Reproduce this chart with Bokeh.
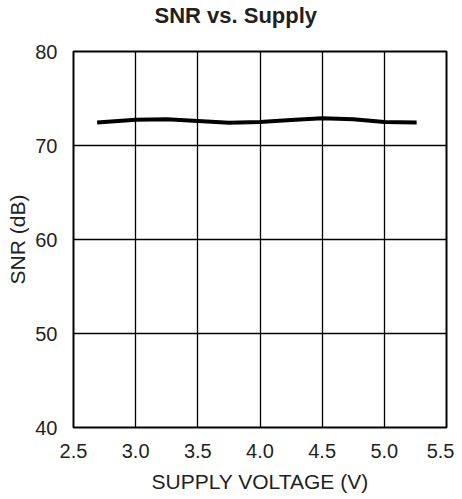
from bokeh.plotting import figure
from bokeh.embed import file_html
from bokeh.resources import INLINE
from bokeh.models import FixedTicker, Range1d, Title

supply_v = [2.69, 3.0, 3.25, 3.5, 3.75, 4.0, 4.25, 4.5, 4.75, 5.0, 5.26]
snr_db = [72.45, 72.75, 72.8, 72.6, 72.42, 72.5, 72.7, 72.9, 72.8, 72.5, 72.45]

x_ticks = [2.5, 3.0, 3.5, 4.0, 4.5, 5.0, 5.5]
y_ticks = [40, 50, 60, 70, 80]
title_text = "SNR vs. Supply"

FONT = "Liberation Sans"
TXT = "#231f20"

p = figure(width=454, height=495, output_backend="svg", toolbar_location=None,
           x_range=Range1d(2.5, 5.5), y_range=Range1d(40, 80),
           min_border_left=73, min_border_right=8, min_border_top=51, min_border_bottom=65)

# spacer between the title and the frame
p.add_layout(Title(text=" ", text_font_size="2px", standoff=20), "above")
p.add_layout(Title(text=title_text, align="left", offset=81, standoff=0,
                   text_font=FONT, text_font_size="22px", text_font_style="bold",
                   text_color=TXT), "above")

p.outline_line_color = "black"
p.outline_line_width = 2

for ax in (p.xaxis[0], p.yaxis[0]):
    ax.axis_line_color = None
    ax.major_tick_line_color = None
    ax.minor_tick_line_color = None
    ax.major_label_text_font = FONT
    ax.major_label_text_font_size = "20px"
    ax.major_label_text_color = TXT
    ax.axis_label_text_font = FONT
    ax.axis_label_text_font_size = "21px"
    ax.axis_label_text_font_style = "normal"
    ax.axis_label_text_color = TXT

p.xaxis.ticker = FixedTicker(ticks=x_ticks)
p.yaxis.ticker = FixedTicker(ticks=y_ticks)
p.xaxis.major_label_overrides = {t: f"{t:.1f}" for t in x_ticks}
p.xaxis.axis_label = "SUPPLY VOLTAGE (V)"
p.yaxis.axis_label = "SNR (dB)"
p.xaxis.major_label_standoff = 10
p.yaxis.major_label_standoff = 10
p.xaxis.axis_label_standoff = 9
p.yaxis.axis_label_standoff = 3

p.xgrid.ticker = FixedTicker(ticks=x_ticks)
p.ygrid.ticker = FixedTicker(ticks=y_ticks)
p.grid.grid_line_color = "black"
p.grid.grid_line_width = 1.3
p.grid.grid_line_alpha = 1

p.line(supply_v, snr_db, line_color="black", line_width=4, line_join="round")

open("out.html", "w").write(file_html(p, INLINE))
